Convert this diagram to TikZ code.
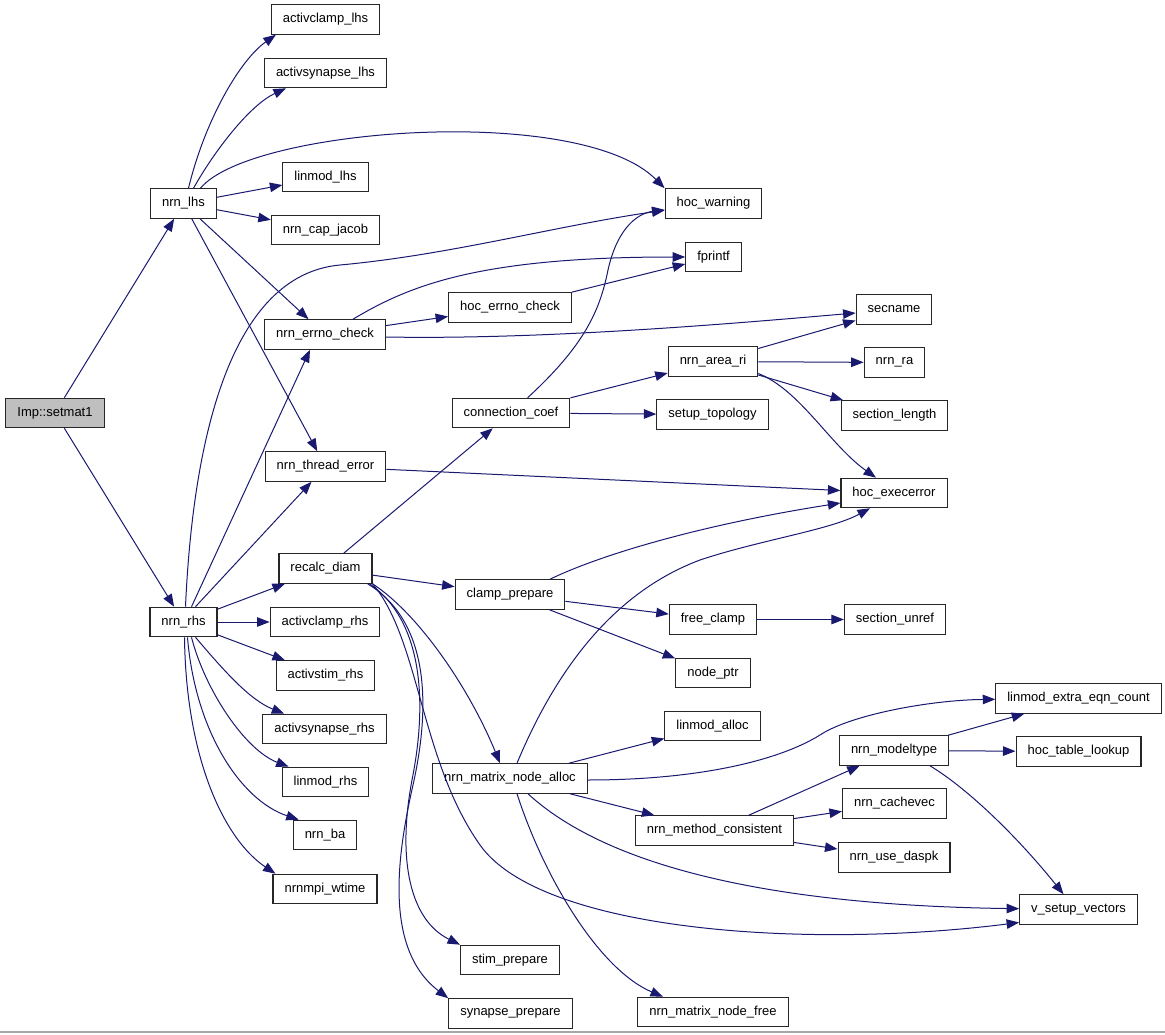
\documentclass[tikz,border=0pt]{standalone}
\usepackage{fontspec}
\setmainfont{Liberation Sans}
\usepackage{xcolor}
\usetikzlibrary{arrows.meta, positioning, calc}
\definecolor{edgeblue}{HTML}{191970}
\definecolor{rootgray}{HTML}{BFBFBF}
\tikzset{
    fn/.style={rectangle, draw=black!85, line width=1.1pt, fill=white, inner xsep=11.5pt, inner ysep=0pt, minimum height=29.5pt, font=\fontsize{13}{15}\selectfont},
    ar/.style={-{Triangle[length=12.5pt, width=9.5pt]}, draw=edgeblue, line width=1pt},
}

\begin{document}
\begin{tikzpicture}[
    x=1pt, y=-1pt,
    root/.style={fn, fill=rootgray},
]
    \useasboundingbox (0,0) rectangle (1165,1035);
    % Rule at the bottom
    \draw [gray!70, line width=2pt] (0,1032) -- (1165,1032);
    % Column 1: caller
    \node [root] (setmat) at (55,413) {Imp::setmat1};
    % Column 2
    \node [fn] (lhs) at (183.5,203.5) {nrn\_lhs};
    \node [fn] (rhs) at (183.5,622) {nrn\_rhs};
    % Column 3
    \node [fn] (aclhs) at (325.5,19.5) {activclamp\_lhs};
    \node [fn] (aslhs) at (325.5,73) {activsynapse\_lhs};
    \node [fn] (lmlhs) at (325.5,177) {linmod\_lhs};
    \node [fn] (capjac) at (325.5,230) {nrn\_cap\_jacob};
    \node [fn] (errno) at (325,334.5) {nrn\_errno\_check};
    \node [fn] (threrr) at (325.5,466.5) {nrn\_thread\_error};
    \node [fn] (recalc) at (325.5,568.5) {recalc\_diam};
    \node [fn] (acrhs) at (325,622) {activclamp\_rhs};
    \node [fn] (asrhs) at (325.5,675.5) {activstim\_rhs};
    \node [fn] (asynrhs) at (324.5,729) {activsynapse\_rhs};
    \node [fn] (lmrhs) at (325.5,782) {linmod\_rhs};
    \node [fn] (ba) at (325,835) {nrn\_ba};
    \node [fn] (wtime) at (325,889) {nrnmpi\_wtime};
    % Column 4
    \node [fn] (hocerrno) at (510,307.5) {hoc\_errno\_check};
    \node [fn] (conn) at (511,413) {connection\_coef};
    \node [fn] (clamp) at (510,594.5) {clamp\_prepare};
    \node [fn] (mnalloc) at (510,778.5) {nrn\_matrix\_node\_alloc};
    \node [fn] (stim) at (510,960) {stim\_prepare};
    \node [fn] (synapse) at (510.5,1013.5) {synapse\_prepare};
    % Column 5
    \node [fn] (warn) at (713.5,203.5) {hoc\_warning};
    \node [fn] (fprintf) at (713.5,257) {fprintf};
    \node [fn] (areari) at (713,361.5) {nrn\_area\_ri};
    \node [fn] (setup) at (712.5,414.5) {setup\_topology};
    \node [fn] (freeclamp) at (713,619.5) {free\_clamp};
    \node [fn] (nodeptr) at (713,673) {node\_ptr};
    \node [fn] (lmalloc) at (712.5,726) {linmod\_alloc};
    \node [fn] (consistent) at (714.5,830.5) {nrn\_method\_consistent};
    \node [fn] (mnfree) at (713,1012) {nrn\_matrix\_node\_free};
    % Column 6
    \node [fn] (secname) at (894,309.5) {secname};
    \node [fn] (nrnra) at (894.5,362.5) {nrn\_ra};
    \node [fn] (seclen) at (894.5,415.5) {section\_length};
    \node [fn] (execerr) at (894,493) {hoc\_execerror};
    \node [fn] (unref) at (895,619.5) {section\_unref};
    \node [fn] (modeltype) at (894,750.5) {nrn\_modeltype};
    \node [fn] (cachevec) at (894.5,803.5) {nrn\_cachevec};
    \node [fn] (daspk) at (894,857.5) {nrn\_use\_daspk};
    % Column 7
    \node [fn] (extra) at (1078.5,698.5) {linmod\_extra\_eqn\_count};
    \node [fn] (tablelookup) at (1078.5,751.5) {hoc\_table\_lookup};
    \node [fn] (vsetup) at (1078.5,909.5) {v\_setup\_vectors};

    % Imp::setmat1
    \draw [ar] (setmat) -- (lhs);
    \draw [ar] (setmat) -- (rhs);
    % nrn_lhs
    \draw [ar] ([xshift=5]lhs.north) .. controls (205,120) and (240,60) .. ([xshift=5]aclhs.south west);
    \draw [ar] ([xshift=10]lhs.north) .. controls (215,150) and (250,105) .. ([xshift=22]aslhs.south west);
    \draw [ar] ([xshift=17]lhs.north) .. controls (250,128) and (580,103) .. (warn.north west);
    \draw [ar] (lhs) -- (lmlhs);
    \draw [ar] (lhs) -- (capjac);
    \draw [ar] (lhs) -- (errno);
    \draw [ar] (lhs) -- (threrr);
    % nrn_rhs
    \draw [ar] (rhs) -- (recalc);
    \draw [ar] (rhs) -- (acrhs);
    \draw [ar] (rhs) -- (asrhs);
    \draw [ar] ([xshift=12]rhs.south) .. controls (225,672) and (250,700) .. ([xshift=22]asynrhs.north west);
    \draw [ar] ([xshift=8]rhs.south) .. controls (205,690) and (245,750) .. ([xshift=7]lmrhs.north west);
    \draw [ar] ([xshift=4]rhs.south) .. controls (195,730) and (240,800) .. ([xshift=6]ba.north west);
    \draw [ar] ([xshift=1]rhs.south) .. controls (186,760) and (225,840) .. ([xshift=3]wtime.north west);
    \draw [ar] ([xshift=12]rhs.north) -- ([xshift=-14]threrr.south);
    \draw [ar] ([xshift=8]rhs.north) -- ([xshift=-15]errno.south);
    \draw [ar] ([xshift=2]rhs.north) .. controls (193,440) and (230,275) .. (340,265)
        .. controls (450,255) and (560,225) .. (warn);
    % nrn_errno_check
    \draw [ar] ([xshift=28]errno.north) .. controls (410,285) and (480,257) .. (fprintf);
    \draw [ar] (errno) -- (hocerrno);
    \draw [ar] ([yshift=-2.5]errno.east) .. controls (550,340) and (750,322) .. ([yshift=-3.5]secname.west);
    \draw [ar] (hocerrno) -- (fprintf);
    % connection_coef
    \draw [ar] (conn) .. controls (585,345) and (600,310) .. (608,270)
        .. controls (618,225) and (640,213) .. (warn);
    \draw [ar] (conn) -- (areari);
    \draw [ar] (conn) -- (setup);
    % nrn_area_ri
    \draw [ar] (areari) -- (secname);
    \draw [ar] (areari) -- (nrnra);
    \draw [ar] (areari) -- (seclen);
    \draw [ar] ([yshift=-12]areari.east) .. controls (800,390) and (830,445) .. ([xshift=-18]execerr.north);
    % nrn_thread_error
    \draw [ar] (threrr) -- (execerr);
    % recalc_diam
    \draw [ar] (recalc) -- (conn);
    \draw [ar] (recalc) -- (clamp);
    \draw [ar] (recalc.south east) .. controls (420,615) and (470,690) .. ([xshift=-10]mnalloc.north);
    \draw [ar] ([xshift=-3]recalc.south east) .. controls (422,620) and (428,700) .. (412,780)
        .. controls (397,860) and (410,920) .. (stim.north west);
    \draw [ar] ([xshift=-5]recalc.south east) .. controls (427,620) and (432,700) .. (413,785)
        .. controls (396,860) and (385,950) .. (synapse.north west);
    \draw [ar] (recalc.south east) .. controls (420,640) and (420,760) .. (480,845)
        .. controls (540,930) and (800,950) .. ([yshift=-13]vsetup.west);
    % clamp_prepare
    \draw [ar] ([xshift=40]clamp.north) .. controls (600,555) and (700,525) .. ([yshift=-10]execerr.west);
    \draw [ar] (clamp) -- (freeclamp);
    \draw [ar] (clamp) -- (nodeptr);
    \draw [ar] (freeclamp) -- (unref);
    % nrn_matrix_node_alloc
    \draw [ar] ([xshift=7]mnalloc.north) .. controls (560,660) and (620,590) .. (700,560)
        .. controls (760,540) and (830,530) .. ([xshift=-24]execerr.south);
    \draw [ar] (mnalloc) -- (lmalloc);
    \draw [ar] ([yshift=-1.5]mnalloc.east) .. controls (700,780) and (780,760) .. (820,735)
        .. controls (850,715) and (930,700) .. (extra);
    \draw [ar] (mnalloc) -- (consistent);
    \draw [ar] ([xshift=18]mnalloc.south) .. controls (600,860) and (750,905) .. (vsetup);
    \draw [ar] ([xshift=7]mnalloc.south) .. controls (545,880) and (600,970) .. ([xshift=-50]mnfree.north);
    % nrn_method_consistent
    \draw [ar] (consistent) -- (modeltype);
    \draw [ar] (consistent) -- (cachevec);
    \draw [ar] (consistent) -- (daspk);
    % nrn_modeltype
    \draw [ar] (modeltype) -- (extra);
    \draw [ar] (modeltype) -- (tablelookup);
    \draw [ar] ([xshift=36]modeltype.south) .. controls (970,790) and (1020,840) .. ([xshift=-15]vsetup.north);
\end{tikzpicture}
\end{document}
